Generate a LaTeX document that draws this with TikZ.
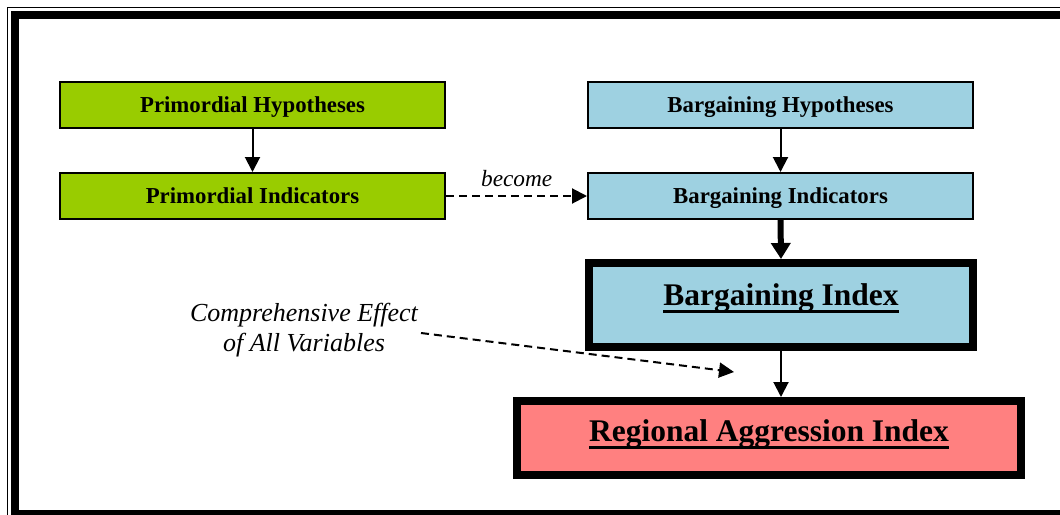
\documentclass[tikz,border=0pt]{standalone}
\usepackage{fontspec}
\setmainfont{Liberation Serif}
\usetikzlibrary{arrows.meta}
\definecolor{primgreen}{RGB}{153,204,0}
\definecolor{bargblue}{RGB}{158,209,225}
\definecolor{aggred}{RGB}{255,128,128}
\newcommand{\myul}[1]{\setbox0\hbox{#1}\rlap{\rule[-8pt]{\wd0}{3.3pt}}\box0}
\begin{document}
\begin{tikzpicture}[x=1pt,y=-1pt,
  thinbox/.style={draw=black,line width=2pt,minimum width=385pt,minimum height=46pt,inner sep=0pt,
     text height=15pt,text depth=0pt,font=\fontsize{22.8}{26}\selectfont\bfseries},
  indexbox/.style={draw=black,line width=8pt,inner sep=0pt,
     font=\fontsize{31.5}{36}\selectfont\bfseries},
  thinarrow/.style={line width=2pt,-{Triangle[length=15pt,width=15pt]}},
  thickarrow/.style={line width=6pt,-{Triangle[length=16pt,width=19pt]}},
  dasharrow/.style={line width=2pt,dash pattern=on 8pt off 5pt,-{Triangle[length=15pt,width=15pt]}},
  itlabel/.style={font=\fontsize{26}{30}\selectfont\itshape,align=center,inner sep=0pt}
]
\useasboundingbox (0,0) rectangle (1060,514);
% frame
\draw[line width=1.2pt] (7.5,7.5) rectangle (1080,540);
\draw[line width=8pt] (15,15) rectangle (1070,514);

\node[thinbox,fill=primgreen] (ph) at (252.5,105) {Primordial Hypotheses};
\node[thinbox,fill=primgreen] (pi) at (252.5,196) {Primordial Indicators};
\node[thinbox,fill=bargblue] (bh) at (780.5,105) {Bargaining Hypotheses};
\node[thinbox,fill=bargblue] (bi) at (780.5,196) {Bargaining Indicators};
\node[indexbox,fill=bargblue,minimum width=384pt,minimum height=84pt,text height=0.6pt,text depth=0pt] (bx) at (781,305) {\myul{Bargaining Index}};
\node[indexbox,fill=aggred,minimum width=504pt,minimum height=74pt,text height=6pt,text depth=0pt] (ra) at (769,438) {\myul{Regional Aggression Index}};

\draw[thinarrow] (ph.south) -- (pi.north);
\draw[thinarrow] (bh.south) -- (bi.north);
\draw[dasharrow] (pi.east) -- (bi.west);
\node[itlabel,font=\fontsize{23.3}{27}\selectfont\itshape,anchor=base] (become) at (516.7,186.7) {become};
\draw[thickarrow] (bi.south) -- (bx.north);
\draw[thinarrow] (bx.south) -- (ra.north -| bx.south);

\node[itlabel] (ce) at (304,330.5) {Comprehensive Effect\\of All Variables};
\coordinate (cestart) at (421,333);
\coordinate (ceend) at (734,372);
\draw[dasharrow] (cestart) -- (ceend);
\end{tikzpicture}
\end{document}
